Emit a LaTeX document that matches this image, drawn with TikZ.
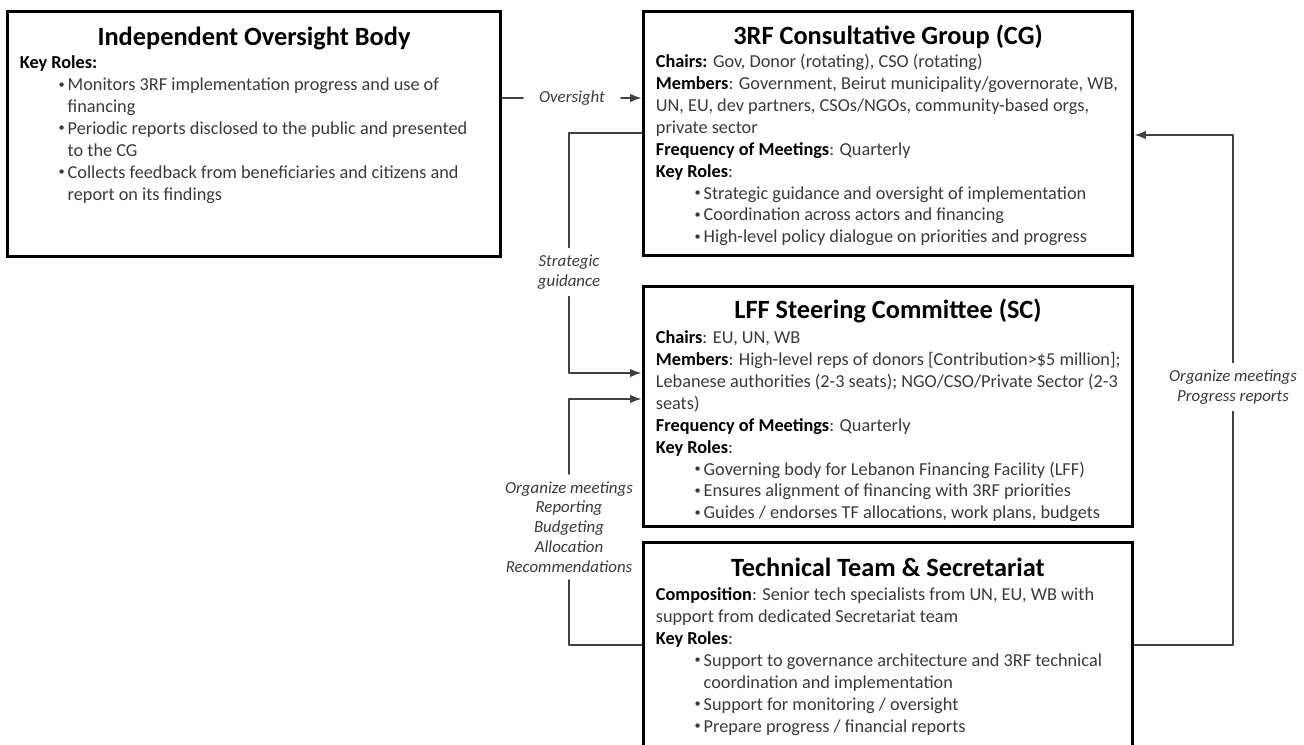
\documentclass[tikz,border=0pt]{standalone}
\usepackage{fontspec}
\setmainfont{Carlito}
\usetikzlibrary{calc,arrows.meta}
\definecolor{FigureInk}{HTML}{3A3A3A}
\definecolor{FigureLine}{HTML}{404040}
\newcommand{\fld}[1]{\textcolor{black}{\textbf{#1}}}
\newcommand{\rolebul}{\hspace*{22pt}\makebox[5.2pt][l]{\raisebox{.25ex}{\fontsize{7}{7}\selectfont\textbullet}}}
\newcommand{\rolecont}{\hspace*{27.2pt}}

\begin{document}
\begin{tikzpicture}[x=0.02cm,y=-0.02cm,line cap=round,line join=round,
  box/.style={draw=black,line width=1.7pt,line join=miter,inner sep=0pt},
  head/.style={font=\fontsize{15}{17}\selectfont\bfseries,anchor=base,inner sep=0pt},
  body/.style={font=\fontsize{10.4}{12.5}\selectfont,text=FigureInk,align=left,anchor=north west,inner sep=0pt},
  lbl/.style={font=\fontsize{9.6}{11.3}\selectfont\itshape,text=FigureInk,align=center,inner sep=4pt},
  link/.style={FigureLine,line width=.85pt},
  arr/.style={link,-{Latex[length=2.3mm,width=1.7mm]}}]
  \useasboundingbox (0,0) rectangle (1304,744);

  \node[box,minimum width=9.88cm,minimum height=4.92cm] (iob) at (254,134) {};
  \node[box,minimum width=9.8cm,minimum height=4.9cm] (cg) at (888,133.5) {};
  \node[box,minimum width=9.8cm,minimum height=4.82cm] (sc) at (888,406.5) {};
  \node[box,minimum width=9.8cm,minimum height=4.2cm] (tt) at (888,647) {};

  \node[head] at ($(iob.north)+(0,36)$) {Independent Oversight Body};
  \node[body] at ($(iob.north west)+(14,43)$) {\strut\fld{Key Roles:}\\
    \rolebul Monitors 3RF implementation progress and use of\\
    \rolecont financing\\
    \rolebul Periodic reports disclosed to the public and presented\\
    \rolecont to the CG\\
    \rolebul Collects feedback from beneficiaries and citizens and\\
    \rolecont report on its findings};

  \node[head] at ($(cg.north)+(0,35)$) {3RF Consultative Group (CG)};
  \node[body] at ($(cg.north west)+(14,42)$) {\strut\fld{Chairs:} Gov, Donor (rotating), CSO (rotating)\\
    \fld{Members}: Government, Beirut municipality/governorate, WB,\\
    UN, EU, dev partners, CSOs/NGOs, community-based orgs,\\
    private sector\\
    \fld{Frequency of Meetings}: Quarterly\\
    \fld{Key Roles}:\\
    \rolebul Strategic guidance and oversight of implementation\\
    \rolebul Coordination across actors and financing\\
    \rolebul High-level policy dialogue on priorities and progress};

  \node[head] at ($(sc.north)+(0,34)$) {LFF Steering Committee (SC)};
  \node[body] at ($(sc.north west)+(14,43)$) {\strut\fld{Chairs}: EU, UN, WB\\
    \fld{Members}: High-level reps of donors [Contribution>\$5 million];\\
    Lebanese authorities (2-3 seats); NGO/CSO/Private Sector (2-3\\
    seats)\\
    \fld{Frequency of Meetings}: Quarterly\\
    \fld{Key Roles}:\\
    \rolebul Governing body for Lebanon Financing Facility (LFF)\\
    \rolebul Ensures alignment of financing with 3RF priorities\\
    \rolebul Guides / endorses TF allocations, work plans, budgets};

  \node[head] at ($(tt.north)+(0,36)$) {Technical Team \& Secretariat};
  \node[body] at ($(tt.north west)+(14,44)$) {\strut\fld{Composition}: Senior tech specialists from UN, EU, WB with\\
    support from dedicated Secretariat team\\
    \fld{Key Roles}:\\
    \rolebul Support to governance architecture and 3RF technical\\
    \rolecont coordination and implementation\\
    \rolebul Support for monitoring / oversight\\
    \rolebul Prepare progress / financial reports};

  \node[lbl,inner xsep=9pt] (ov) at (572,98) {Oversight};
  \node[lbl] (sg) at (569,272) {Strategic\\guidance};
  \node[lbl] (og) at (569,527) {Organize meetings\\Reporting\\Budgeting\\Allocation\\Recommendations};
  \node[lbl] (pr) at (1233,387) {Organize meetings\\Progress reports};

  \draw[link] (ov -| iob.east) -- (ov.west);
  \draw[arr] (ov.east) -- (ov -| cg.west);
  \draw[link] (cg.west |- 0,133) -| (sg.north);
  \draw[arr] (sg.south) |- (sc.west |- 0,373);
  \draw[link] (tt.west |- 0,645) -| (og.south);
  \draw[arr] (og.north) |- (sc.west |- 0,399);
  \draw[link] (tt.east |- 0,645) -| (pr.south);
  \draw[arr] (pr.north) |- (cg.east |- 0,135);
\end{tikzpicture}
\end{document}
